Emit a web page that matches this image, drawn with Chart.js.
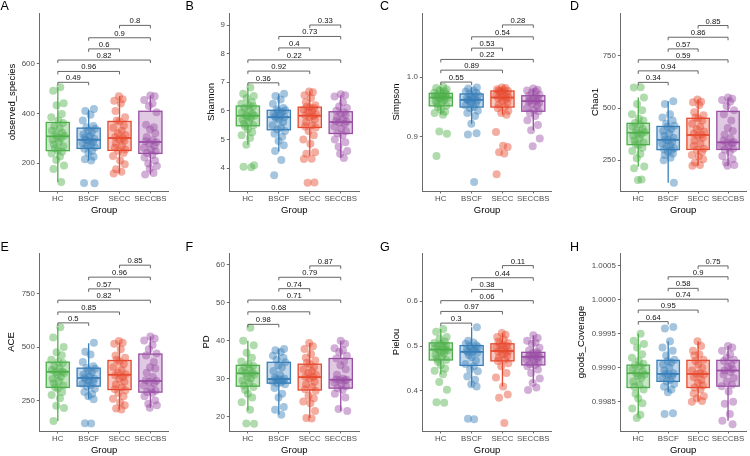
<!DOCTYPE html>
<html>
<head>
<meta charset="utf-8">
<title>Alpha diversity</title>
<script src="https://cdn.jsdelivr.net/npm/chart.js@4.4.1/dist/chart.umd.min.js"></script>
<style>
  html, body { margin: 0; padding: 0; background: #fff; }
  #wrap { position: relative; width: 750px; height: 456px; overflow: hidden; }
  #wrap canvas { position: absolute; }
</style>
</head>
<body>
<div id="wrap"></div>
<script>
const groups = ['HC', 'BSCF', 'SECC', 'SECCBS'];
const groupColors = ['#4DAF4A', '#377EB8', '#E64A2E', '#984EA3'];
// pairs compared by the brackets, bottom to top
const comparisons = [[0, 1], [0, 2], [0, 3], [1, 2], [1, 3], [2, 3]];

// ---- A: observed_species ----
const observedPoints = [
    [506, 492, 441, 433, 398, 385, 372, 362, 350, 340, 330, 322, 316, 310, 306, 300, 294, 285, 276, 268, 260, 252, 246, 238, 226, 212, 190, 176, 123],
    [418, 410, 395, 372, 350, 345, 338, 330, 322, 315, 308, 302, 298, 294, 290, 285, 280, 275, 270, 264, 258, 250, 240, 225, 215, 210, 119, 118],
    [470, 458, 452, 440, 410, 385, 372, 368, 352, 342, 330, 320, 312, 305, 300, 296, 290, 280, 270, 262, 255, 250, 240, 228, 210, 195, 175, 165, 158],
    [473, 470, 455, 440, 430, 405, 355, 345, 335, 320, 305, 292, 288, 284, 280, 270, 262, 255, 248, 240, 232, 222, 210, 198, 188, 178, 160, 154]
];
// [lower whisker, q1, median, q3, upper whisker]
const observedBoxes = [[123, 250, 308, 364, 506], [210, 259, 294, 341, 415], [158, 251, 301, 368, 470], [154, 239, 285, 409, 473]];
const observedPValues = ['0.49', '0.96', '0.82', '0.6', '0.9', '0.8'];
const observedBracketY = [526, 570, 616, 661, 706, 756];
const observedTicks = [200, 400, 600];

// ---- B: Shannon ----
const shannonPoints = [
    [6.82, 6.6, 6.52, 6.45, 6.3, 6.25, 6.2, 6.15, 6.1, 6.02, 5.95, 5.9, 5.85, 5.83, 5.8, 5.75, 5.7, 5.62, 5.55, 5.5, 5.45, 5.35, 5.25, 5.15, 5.05, 4.82, 4.1, 4.05, 4.03],
    [6.6, 6.52, 6.4, 6.25, 6.1, 6.05, 6.02, 6.0, 5.95, 5.9, 5.85, 5.8, 5.78, 5.75, 5.7, 5.6, 5.5, 5.42, 5.35, 5.3, 5.2, 5.1, 4.95, 4.8, 4.6, 4.28, 3.75],
    [6.68, 6.65, 6.55, 6.45, 6.3, 6.2, 6.15, 6.12, 6.1, 6.05, 6.0, 5.95, 5.88, 5.85, 5.82, 5.78, 5.7, 5.6, 5.5, 5.45, 5.42, 5.3, 5.15, 5.0, 4.85, 4.55, 4.5, 4.33, 4.32, 3.5, 3.49],
    [6.58, 6.55, 6.5, 6.3, 6.15, 6.1, 6.0, 5.95, 5.9, 5.85, 5.78, 5.7, 5.65, 5.62, 5.6, 5.55, 5.45, 5.38, 5.3, 5.22, 5.15, 5.0, 4.9, 4.75, 4.6, 4.5, 4.35]
];
const shannonBoxes = [[4.82, 5.48, 5.83, 6.17, 6.82], [4.58, 5.34, 5.78, 6.02, 6.61], [4.43, 5.42, 5.83, 6.13, 6.68], [4.35, 5.21, 5.61, 5.97, 6.55]];
const shannonPValues = ['0.36', '0.92', '0.22', '0.4', '0.73', '0.33'];
const shannonBracketY = [6.98, 7.39, 7.78, 8.2, 8.6, 9.0];
const shannonTicks = [4, 5, 6, 7, 8, 9];

// ---- C: Simpson ----
const simpsonPoints = [
    [0.984, 0.982, 0.980, 0.978, 0.976, 0.974, 0.973, 0.972, 0.970, 0.969, 0.968, 0.967, 0.966, 0.965, 0.964, 0.962, 0.960, 0.958, 0.955, 0.952, 0.950, 0.946, 0.942, 0.940, 0.937, 0.909, 0.905, 0.868],
    [0.983, 0.981, 0.978, 0.976, 0.974, 0.972, 0.970, 0.968, 0.966, 0.964, 0.963, 0.962, 0.961, 0.960, 0.958, 0.956, 0.953, 0.950, 0.948, 0.944, 0.940, 0.935, 0.922, 0.906, 0.904, 0.824],
    [0.983, 0.982, 0.980, 0.979, 0.978, 0.977, 0.976, 0.974, 0.972, 0.970, 0.968, 0.967, 0.966, 0.965, 0.963, 0.960, 0.957, 0.954, 0.950, 0.948, 0.944, 0.940, 0.937, 0.908, 0.885, 0.883, 0.874, 0.872, 0.837],
    [0.981, 0.979, 0.978, 0.976, 0.974, 0.971, 0.969, 0.967, 0.965, 0.963, 0.961, 0.960, 0.959, 0.957, 0.955, 0.952, 0.948, 0.945, 0.943, 0.940, 0.935, 0.928, 0.920, 0.911, 0.897, 0.884]
];
const simpsonBoxes = [[0.937, 0.952, 0.966, 0.973, 0.984], [0.922, 0.950, 0.962, 0.972, 0.983], [0.937, 0.950, 0.966, 0.977, 0.983], [0.911, 0.943, 0.960, 0.969, 0.981]];
const simpsonPValues = ['0.55', '0.89', '0.22', '0.53', '0.54', '0.28'];
const simpsonBracketY = [0.992, 1.012, 1.030, 1.049, 1.068, 1.088];
const simpsonTicks = [0.9, 1.0];

// ---- D: Chao1 ----
const chaoPoints = [
    [600, 598, 551, 520, 490, 470, 450, 440, 428, 420, 410, 400, 392, 385, 380, 375, 368, 355, 345, 335, 328, 322, 310, 295, 280, 260, 220, 212, 158, 156],
    [532, 520, 470, 455, 440, 425, 415, 410, 400, 390, 378, 368, 358, 350, 346, 340, 332, 322, 315, 308, 302, 298, 290, 282, 275, 262, 250, 143],
    [541, 530, 528, 515, 480, 465, 455, 450, 440, 425, 410, 398, 388, 378, 372, 368, 358, 345, 330, 318, 305, 300, 290, 275, 268, 255, 240, 228, 224],
    [551, 545, 538, 530, 510, 490, 470, 440, 405, 390, 372, 355, 345, 338, 335, 330, 322, 315, 305, 300, 290, 270, 255, 240, 228, 224]
];
const chaoBoxes = [[219, 325, 382, 427, 551], [143, 301, 348, 412, 532], [224, 302, 371, 451, 541], [224, 302, 336, 484, 551]];
const chaoPValues = ['0.34', '0.94', '0.59', '0.57', '0.86', '0.85'];
const chaoBracketY = [623, 678, 731, 783, 839, 895];
const chaoTicks = [250, 500, 750];

// ---- E: ACE ----
const acePoints = [
    [593, 545, 500, 475, 462, 440, 430, 425, 410, 400, 392, 386, 382, 378, 370, 360, 350, 340, 330, 320, 312, 305, 290, 275, 260, 225, 215, 154],
    [520, 478, 465, 430, 410, 402, 398, 390, 380, 370, 362, 356, 352, 348, 342, 335, 328, 320, 315, 305, 290, 280, 270, 255, 143, 142],
    [528, 520, 515, 490, 460, 450, 440, 432, 420, 405, 392, 380, 372, 368, 360, 350, 338, 325, 312, 302, 298, 285, 270, 258, 240, 228, 212, 208],
    [549, 540, 530, 510, 490, 470, 460, 430, 405, 400, 380, 360, 345, 342, 338, 330, 320, 305, 295, 290, 285, 270, 250, 235, 228, 216]
];
const aceBoxes = [[154, 311, 384, 429, 593], [255, 317, 355, 401, 518], [208, 301, 370, 437, 521], [216, 289, 341, 467, 549]];
const acePValues = ['0.5', '0.85', '0.82', '0.57', '0.96', '0.85'];
const aceBracketY = [613, 664, 719, 772, 827, 883];
const aceTicks = [250, 500, 750];

// ---- F: PD ----
const pdPoints = [
    [43.4, 40.0, 38.8, 36.8, 35.5, 34.5, 33.8, 33.4, 33.0, 32.5, 32.0, 31.6, 31.4, 31.0, 30.5, 30.0, 29.5, 28.8, 28.2, 27.8, 27.0, 26.0, 25.0, 23.8, 21.8, 18.2, 18.1],
    [37.8, 37.5, 37.0, 36.0, 35.5, 35.0, 34.3, 33.5, 33.0, 32.0, 31.0, 30.2, 30.0, 29.9, 29.8, 29.5, 29.2, 29.0, 28.8, 28.5, 27.5, 26.0, 25.0, 22.5, 21.8, 20.5],
    [39.4, 38.5, 37.8, 36.5, 35.5, 34.8, 34.2, 33.8, 33.0, 32.5, 32.0, 31.5, 31.0, 30.5, 30.4, 30.0, 29.2, 28.5, 27.8, 27.2, 26.8, 25.5, 24.8, 24.0, 23.5, 21.5, 19.6, 19.5],
    [40.0, 39.2, 38.0, 37.5, 37.0, 36.0, 35.3, 34.5, 33.5, 32.5, 31.0, 30.0, 29.8, 29.7, 29.6, 29.5, 29.0, 28.5, 28.0, 27.5, 27.0, 26.0, 25.0, 22.0, 21.5]
];
const pdBoxes = [[21.6, 28.0, 31.4, 33.5, 40.0], [20.5, 28.8, 29.9, 34.3, 37.9], [19.6, 27.0, 30.4, 33.8, 39.4], [21.5, 27.5, 29.7, 35.3, 40.0]];
const pdPValues = ['0.98', '0.68', '0.71', '0.74', '0.79', '0.87'];
const pdBracketY = [44.3, 47.6, 50.7, 53.7, 56.7, 59.7];
const pdTicks = [20, 30, 40, 50, 60];

// ---- G: Pielou ----
const pielouPoints = [
    [0.538, 0.532, 0.520, 0.516, 0.510, 0.507, 0.505, 0.502, 0.500, 0.498, 0.495, 0.493, 0.492, 0.490, 0.487, 0.484, 0.480, 0.476, 0.472, 0.469, 0.465, 0.458, 0.450, 0.445, 0.437, 0.420, 0.403, 0.375, 0.374],
    [0.542, 0.512, 0.508, 0.505, 0.502, 0.500, 0.498, 0.495, 0.492, 0.490, 0.488, 0.487, 0.485, 0.480, 0.475, 0.468, 0.460, 0.455, 0.448, 0.444, 0.432, 0.425, 0.415, 0.410, 0.338, 0.337],
    [0.529, 0.525, 0.520, 0.515, 0.510, 0.507, 0.505, 0.502, 0.500, 0.497, 0.494, 0.491, 0.489, 0.488, 0.485, 0.482, 0.478, 0.474, 0.470, 0.467, 0.462, 0.455, 0.440, 0.430, 0.410, 0.392, 0.385, 0.329],
    [0.524, 0.518, 0.512, 0.508, 0.505, 0.496, 0.490, 0.487, 0.485, 0.483, 0.480, 0.478, 0.477, 0.476, 0.475, 0.473, 0.470, 0.467, 0.463, 0.460, 0.458, 0.455, 0.448, 0.440, 0.428, 0.418, 0.408, 0.402]
];
const pielouBoxes = [[0.437, 0.469, 0.492, 0.507, 0.538], [0.410, 0.457, 0.487, 0.501, 0.542], [0.410, 0.467, 0.489, 0.505, 0.529], [0.418, 0.458, 0.476, 0.486, 0.524]];
const pielouPValues = ['0.3', '0.97', '0.06', '0.38', '0.44', '0.11'];
const pielouBracketY = [0.551, 0.577, 0.601, 0.626, 0.652, 0.679];
const pielouTicks = [0.4, 0.5, 0.6];

// ---- H: goods_Coverage ----
const coveragePoints = [
    [0.99950, 0.99940, 0.99935, 0.99930, 0.99920, 0.99915, 0.99910, 0.99906, 0.99904, 0.99902, 0.99898, 0.99895, 0.99892, 0.99890, 0.99888, 0.99885, 0.99880, 0.99875, 0.99872, 0.99868, 0.99862, 0.99855, 0.99848, 0.99840, 0.99831, 0.99826],
    [0.99960, 0.99958, 0.99939, 0.99930, 0.99925, 0.99918, 0.99912, 0.99910, 0.99908, 0.99905, 0.99900, 0.99896, 0.99892, 0.99891, 0.99890, 0.99888, 0.99885, 0.99882, 0.99880, 0.99876, 0.99872, 0.99868, 0.99864, 0.99833, 0.99832],
    [0.99939, 0.99932, 0.99925, 0.99920, 0.99918, 0.99912, 0.99910, 0.99905, 0.99900, 0.99896, 0.99892, 0.99891, 0.99890, 0.99886, 0.99882, 0.99878, 0.99874, 0.99871, 0.99868, 0.99862, 0.99858, 0.99855, 0.99851, 0.99850],
    [0.99932, 0.99930, 0.99925, 0.99920, 0.99915, 0.99912, 0.99910, 0.99905, 0.99902, 0.99898, 0.99896, 0.99894, 0.99890, 0.99885, 0.99880, 0.99875, 0.99873, 0.99865, 0.99850, 0.99847, 0.99832, 0.99822, 0.99817]
];
const coverageBoxes = [[0.99831, 0.99871, 0.99892, 0.99904, 0.99950], [0.99864, 0.99880, 0.99891, 0.99911, 0.99939], [0.99851, 0.99871, 0.99891, 0.99911, 0.99939], [0.99822, 0.99873, 0.99896, 0.99911, 0.99932]];
const coveragePValues = ['0.64', '0.95', '0.74', '0.58', '0.9', '0.75'];
const coverageBracketY = [0.99968, 0.99985, 1.00001, 1.00017, 1.00034, 1.00050];
const coverageTicks = [0.9985, 0.9990, 0.9995, 1.0000, 1.0005];

// fixed horizontal spread for the dots (category units), reused per group
const jitter = [0.08, -0.15, 0.19, -0.04, 0.13, -0.21, 0.02, 0.17, -0.11, 0.06, -0.19, 0.15, -0.07, 0.21, -0.02, 0.10,
    -0.17, 0.04, -0.13, 0.18, -0.09, 0.00, 0.14, -0.20, 0.07, -0.05, 0.20, -0.14, 0.11, -0.01, 0.16, -0.12];

// page layout (pixels in the 750x456 picture)
const cols = [
    { left: 0, width: 185, axisX: 39.3, right: 168.9 },
    { left: 185, width: 187, axisX: 229.3, right: 359.3 },
    { left: 372, width: 185, axisX: 422.3, right: 551.8 },
    { left: 557, width: 193, axisX: 620.3, right: 749.4 }
];
const rows = [
    { top: 0, height: 228, plotTop: 13, plotBottom: 191, letterY: 7 },
    { top: 228, height: 228, plotTop: 253, plotBottom: 431, letterY: 247.5 }
];
const letterX = [0.5, 185.5, 380, 570];

const FONT = "'Liberation Sans', Arial, Helvetica, sans-serif";
const AXIS_COLOR = '#6b6b6b';
const TICK_FONT = 7.9;
const SIG_FONT = 7.7;
const TITLE_FONT = 9.5;

const panels = [
    { letter: 'A', title: 'observed_species', titleX: 12.7, range: [87, 806], ticks: observedTicks, digits: 0, points: observedPoints, boxes: observedBoxes, pv: observedPValues, by: observedBracketY },
    { letter: 'B', title: 'Shannon', titleX: 211.7, range: [3.2, 9.42], ticks: shannonTicks, digits: 0, points: shannonPoints, boxes: shannonBoxes, pv: shannonPValues, by: shannonBracketY },
    { letter: 'C', title: 'Simpson', titleX: 396.7, range: [0.809, 1.108], ticks: simpsonTicks, digits: 1, points: simpsonPoints, boxes: simpsonBoxes, pv: simpsonPValues, by: simpsonBracketY },
    { letter: 'D', title: 'Chao1', titleX: 595, range: [103, 955], ticks: chaoTicks, digits: 0, points: chaoPoints, boxes: chaoBoxes, pv: chaoPValues, by: chaoBracketY },
    { letter: 'E', title: 'ACE', titleX: 11.7, range: [107, 940], ticks: aceTicks, digits: 0, points: acePoints, boxes: aceBoxes, pv: acePValues, by: aceBracketY },
    { letter: 'F', title: 'PD', titleX: 206.7, range: [16.2, 63.1], ticks: pdTicks, digits: 0, points: pdPoints, boxes: pdBoxes, pv: pdPValues, by: pdBracketY },
    { letter: 'G', title: 'Pielou', titleX: 396.7, range: [0.311, 0.707], ticks: pielouTicks, digits: 1, points: pielouPoints, boxes: pielouBoxes, pv: pielouPValues, by: pielouBracketY },
    { letter: 'H', title: 'goods_Coverage', titleX: 581.7, range: [0.99807, 1.00069], ticks: coverageTicks, digits: 4, points: coveragePoints, boxes: coverageBoxes, pv: coveragePValues, by: coverageBracketY }
];

function rgba(hex, a) {
    const n = parseInt(hex.slice(1), 16);
    return `rgba(${(n >> 16) & 255}, ${(n >> 8) & 255}, ${n & 255}, ${a})`;
}

// box + whiskers, under the dots
const boxPlugin = {
    id: 'boxes',
    beforeDatasetsDraw(chart, args, opts) {
        const { ctx, scales: { x, y } } = chart;
        const half = x.getPixelForValue(1.375) - x.getPixelForValue(1);
        opts.stats.forEach((s, i) => {
            const cx = x.getPixelForValue(i + 1);
            const [lo, q1, med, q3, hi] = s.map(v => y.getPixelForValue(v));
            ctx.save();
            ctx.strokeStyle = groupColors[i];
            ctx.lineWidth = 1.3;
            ctx.beginPath();
            ctx.moveTo(cx, lo); ctx.lineTo(cx, q1);
            ctx.moveTo(cx, q3); ctx.lineTo(cx, hi);
            ctx.stroke();
            ctx.fillStyle = rgba(groupColors[i], 0.3);
            ctx.fillRect(cx - half, q3, half * 2, q1 - q3);
            ctx.strokeRect(cx - half, q3, half * 2, q1 - q3);
            ctx.lineWidth = 1.8;
            ctx.beginPath();
            ctx.moveTo(cx - half, med); ctx.lineTo(cx + half, med);
            ctx.stroke();
            ctx.restore();
        });
    }
};

// significance brackets with p values
const bracketPlugin = {
    id: 'brackets',
    afterDatasetsDraw(chart, args, opts) {
        const { ctx, scales: { x, y } } = chart;
        ctx.save();
        ctx.strokeStyle = '#555';
        ctx.lineWidth = 0.9;
        ctx.fillStyle = '#111';
        ctx.font = `${SIG_FONT}px ${FONT}`;
        ctx.textAlign = 'center';
        ctx.textBaseline = 'bottom';
        comparisons.forEach(([a, b], k) => {
            const x1 = x.getPixelForValue(a + 1);
            const x2 = x.getPixelForValue(b + 1);
            const yy = y.getPixelForValue(opts.ys[k]);
            ctx.beginPath();
            ctx.moveTo(x1, yy + 3); ctx.lineTo(x1, yy); ctx.lineTo(x2, yy); ctx.lineTo(x2, yy + 3);
            ctx.stroke();
            ctx.fillText(opts.labels[k], (x1 + x2) / 2, yy - 0.3);
        });
        ctx.restore();
    }
};

// panel letter in the top-left corner
const letterPlugin = {
    id: 'letter',
    afterDraw(chart, args, opts) {
        const { ctx } = chart;
        ctx.save();
        ctx.fillStyle = '#000';
        ctx.font = `12.5px ${FONT}`;
        ctx.textAlign = 'left';
        ctx.textBaseline = 'middle';
        ctx.fillText(opts.text, opts.x, opts.y);
        ctx.restore();
    }
};

const wrap = document.getElementById('wrap');

panels.forEach((p, idx) => {
    const col = cols[idx % 4];
    const row = rows[Math.floor(idx / 4)];

    const canvas = document.createElement('canvas');
    canvas.width = col.width;
    canvas.height = row.height;
    canvas.style.left = col.left + 'px';
    canvas.style.top = row.top + 'px';
    canvas.style.width = col.width + 'px';
    canvas.style.height = row.height + 'px';
    wrap.appendChild(canvas);

    const titleLH = TITLE_FONT * 1.2;
    const padLeft = p.titleX - col.left - titleLH / 2;
    const yWidth = col.axisX - p.titleX + titleLH / 2;
    const xBoxBottom = row.plotBottom + 19.8 + titleLH / 2;
    const padBottom = Math.max(0, row.top + row.height - xBoxBottom);
    const xHeight = row.top + row.height - padBottom - row.plotBottom;

    new Chart(canvas, {
        type: 'scatter',
        data: {
            datasets: groups.map((g, gi) => ({
                label: g,
                data: p.points[gi].map((v, k) => ({ x: gi + 1 + jitter[(k + gi * 7) % jitter.length], y: v })),
                backgroundColor: rgba(groupColors[gi], 0.45),
                borderWidth: 0,
                pointRadius: 4
            }))
        },
        options: {
            responsive: false,
            animation: false,
            events: [],
            layout: {
                padding: {
                    left: padLeft,
                    right: col.left + col.width - col.right,
                    top: row.plotTop - row.top,
                    bottom: padBottom
                }
            },
            scales: {
                x: {
                    type: 'linear',
                    min: 0.4,
                    max: 4.6,
                    afterBuildTicks: s => { s.ticks = groups.map((g, i) => ({ value: i + 1 })); },
                    afterFit: s => { s.height = xHeight; },
                    ticks: {
                        callback: (v, i) => groups[i],
                        autoSkip: false,
                        maxRotation: 0,
                        padding: 1,
                        color: '#4d4d4d',
                        font: { family: FONT, size: TICK_FONT }
                    },
                    grid: { display: true, drawOnChartArea: false, drawTicks: true, tickLength: 2.5, color: AXIS_COLOR },
                    border: { display: true, color: AXIS_COLOR, width: 1 },
                    title: { display: true, text: 'Group', color: '#000', padding: 0, font: { family: FONT, size: TITLE_FONT } }
                },
                y: {
                    type: 'linear',
                    bounds: 'data',
                    min: p.range[0],
                    max: p.range[1],
                    afterBuildTicks: s => { s.ticks = p.ticks.map(v => ({ value: v })); },
                    afterFit: s => { s.width = yWidth; },
                    ticks: {
                        callback: v => Number(v).toFixed(p.digits),
                        padding: 2,
                        color: '#4d4d4d',
                        font: { family: FONT, size: TICK_FONT }
                    },
                    grid: { display: true, drawOnChartArea: false, drawTicks: true, tickLength: 2.5, color: AXIS_COLOR },
                    border: { display: true, color: AXIS_COLOR, width: 1 },
                    title: { display: true, text: p.title, color: '#000', padding: 0, font: { family: FONT, size: TITLE_FONT } }
                }
            },
            plugins: {
                legend: { display: false },
                tooltip: { enabled: false },
                boxes: { stats: p.boxes },
                brackets: { ys: p.by, labels: p.pv },
                letter: { text: p.letter, x: letterX[idx % 4] - col.left, y: row.letterY - row.top }
            }
        },
        plugins: [boxPlugin, bracketPlugin, letterPlugin]
    });
});
</script>
</body>
</html>
